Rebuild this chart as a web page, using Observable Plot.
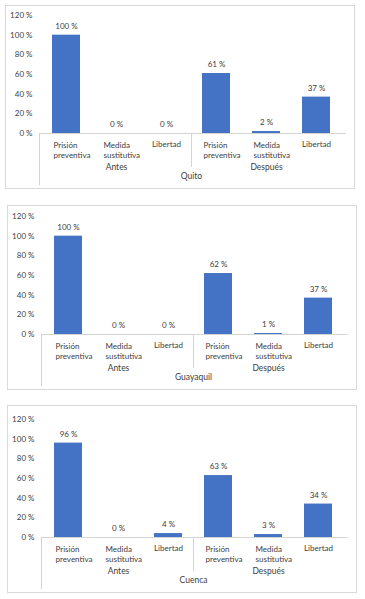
<!DOCTYPE html>
<html><head><meta charset="utf-8">
<script src="https://cdn.jsdelivr.net/npm/d3@7"></script>
<script src="https://cdn.jsdelivr.net/npm/@observablehq/plot@0.6"></script>
<style>
body{margin:0;background:#fff;width:365px;height:599px;position:relative;overflow:hidden;font-family:Lato,sans-serif;}
.panel{position:absolute;border:1px solid #d9d9d9;background:#fff;}
.panel svg{display:block;}
</style></head><body>
<script>
const cities = ["Quito", "Guayaquil", "Cuenca"];
const periods = ["Antes", "Antes", "Antes", "Después", "Después", "Después"];
const categories = ["Prisión\npreventiva", "Medida\nsustitutiva", "Libertad", "Prisión\npreventiva", "Medida\nsustitutiva", "Libertad"];
const quitoValues = [100, 0, 0, 61, 2, 37];
const guayaquilValues = [100, 0, 0, 62, 1, 37];
const cuencaValues = [96, 0, 4, 63, 3, 34];
const yTicks = [0, 20, 40, 60, 80, 100, 120];
const cityValues = [quitoValues, guayaquilValues, cuencaValues];

const layout = [{left: 5, top: 5, h: 182}, {left: 7, top: 205, h: 183}, {left: 7, top: 405, h: 186}];
const W = 348, MB = 55, PH = 118, ML = 33, MR = 11;
const TXT = "#404040", LINE = "#d4d4d4", BLUE = "#4472C4";

function panel(city, values, lay) {
  const rows = values.map((v, i) => ({key: i, period: periods[i], category: categories[i], value: v, two: categories[i].includes("\n")}));
  const keys = rows.map(d => d.key);
  const groupRows = Array.from(d3.group(rows, d => d.period), ([p, rs]) => ({period: p, key: rs[Math.floor(rs.length / 2)].key}));
  const plot = Plot.plot({
    width: W, height: lay.h,
    marginTop: lay.h - MB - PH, marginBottom: MB, marginLeft: ML, marginRight: MR,
    style: {fontFamily: "Lato, sans-serif", fontSize: "8px", color: TXT, background: "#fff", overflow: "visible"},
    x: {domain: keys, padding: 0, axis: null},
    y: {domain: [0, 120], ticks: yTicks, tickFormat: d => d + " %", tickSize: 0, tickPadding: 7, label: null},
    marks: [
      Plot.barY(rows, {x: "key", y: "value", fill: BLUE, insetLeft: 11, insetRight: 11}),
      Plot.text(rows, {x: "key", y: "value", text: d => d.value + " %", dy: -9, fill: TXT, fontSize: 8}),
      Plot.text(rows.filter(d => d.two), {x: "key", y: 0, text: "category", textAnchor: "start", lineAnchor: "top", dx: -13, dy: 8, lineHeight: 1.18, fill: TXT, fontSize: 8}),
      Plot.text(rows.filter(d => !d.two), {x: "key", y: 0, text: "category", lineAnchor: "top", dy: 8, fill: TXT, fontSize: 8}),
      Plot.text(groupRows, {x: "key", y: 0, text: "period", dy: 34, fill: TXT, fontSize: 8.5}),
      Plot.text([city], {frameAnchor: "bottom", text: d => d, dy: 45, fill: TXT, fontSize: 8.5})
    ]
  });
  const sx = plot.scale("x"), sy = plot.scale("y");
  const x0 = sx.range[0], x1 = sx.range[1];
  const step = (x1 - x0) / keys.length;
  const y0 = sy.range[0];
  const svg = d3.select(plot);
  const g = svg.append("g").attr("stroke", LINE).attr("stroke-width", 1);
  g.append("line").attr("x1", x0).attr("x2", x1 + 3).attr("y1", y0 + 0.5).attr("y2", y0 + 0.5);
  g.append("line").attr("x1", x0 + 0.5).attr("x2", x0 + 0.5).attr("y1", y0).attr("y2", y0 + 52);
  const mid = x0 + step * periods.filter(p => p === periods[0]).length;
  g.append("line").attr("x1", mid + 0.5).attr("x2", mid + 0.5).attr("y1", y0).attr("y2", y0 + 34);
  svg.selectAll("g[aria-label='bar']").raise();
  const div = document.createElement("div");
  div.className = "panel";
  div.style.left = lay.left + "px";
  div.style.top = lay.top + "px";
  div.appendChild(plot);
  document.body.appendChild(div);
}

cities.forEach((c, i) => panel(c, cityValues[i], layout[i]));
</script>
</body></html>
